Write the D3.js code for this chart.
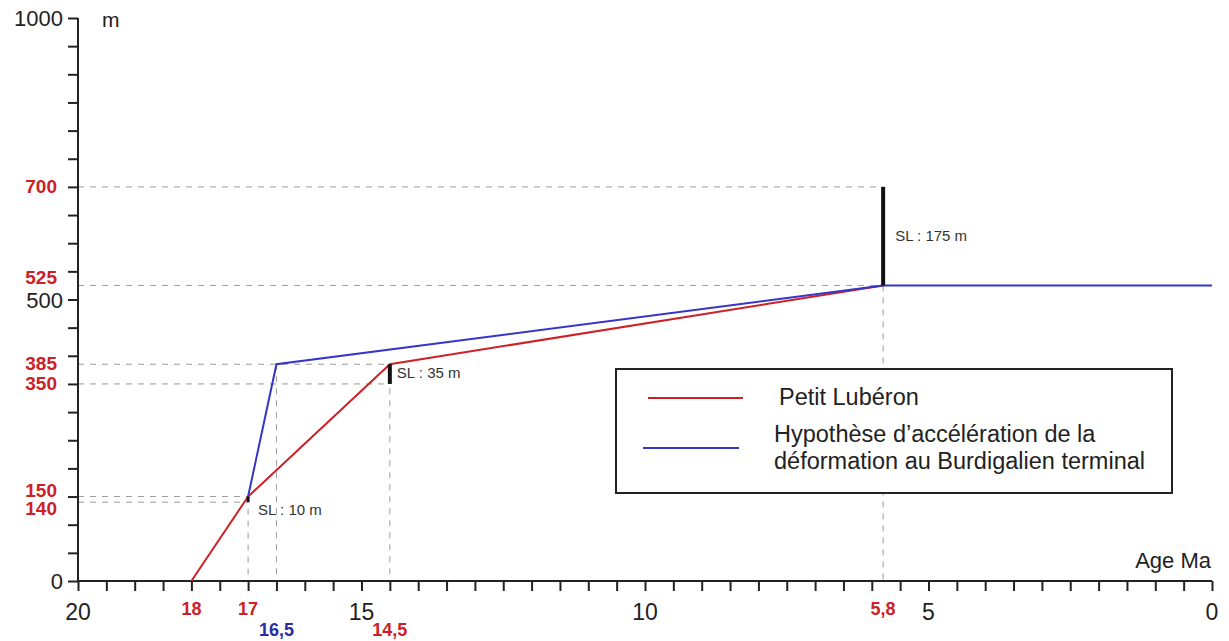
<!DOCTYPE html>
<html><head><meta charset="utf-8">
<script src="https://cdn.jsdelivr.net/npm/d3@7"></script>
<style>body{margin:0;background:#fff;} text{font-family:"Liberation Sans",Arial,sans-serif;}</style>
</head><body><svg id="c" width="1229" height="641"></svg>
<script>
// ---- data ----
const redAges = [18, 17, 14.5, 5.8];
const redAlt  = [0, 150, 385, 525];
const blueAges = [17, 16.5, 5.8, 0];
const blueAlt  = [150, 385, 525, 525];
const slAges = [17, 14.5, 5.8];
const slLow  = [140, 350, 525];
const slHigh = [150, 385, 700];
const slLabels = ["SL : 10 m", "SL : 35 m", "SL : 175 m"];
const yMarks = [700, 525, 385, 350, 150, 140];
const yMarkAges = [5.8, 5.8, 14.5, 14.5, 17, 17];
const xMarks = [18, 17, 16.5, 14.5, 5.8];
const xMarkLabels = ["18", "17", "16,5", "14,5", "5,8"];
const vRefAges = [17, 16.5, 14.5, 5.8];
const vRefAlt  = [150, 385, 385, 525];
const xTickLabels = [20, 15, 10, 5, 0];
const yTickLabels = [0, 500, 1000];
const legendLabels = ["Petit Lubéron", ["Hypothèse d’accélération de la", "déformation au Burdigalien terminal"]];

// ---- layout/style ----
const RED = "#cc2127", BLUE = "#3535c8", LBLUE = "#2b2ba6";
const yMarkDy = [6, -1, 6, 6, 0, 13];
const xMarkRow = [0, 0, 1, 1, 0];
const xMarkColor = [RED, RED, LBLUE, RED, RED];

const svg = d3.select("#c");
const x = d3.scaleLinear().domain([20, 0]).range([78, 1212]);
const y = d3.scaleLinear().domain([0, 1000]).range([581, 18]);

// dashed reference lines
const dash = svg.append("g").attr("stroke", "#9a9a9a").attr("stroke-width", 1).attr("stroke-dasharray", "6,6");
yMarks.forEach((v, i) => {
  dash.append("line").attr("x1", x(20)).attr("x2", x(yMarkAges[i])).attr("y1", y(v)).attr("y2", y(v));
});
vRefAges.forEach((a, i) => {
  dash.append("line").attr("x1", x(a)).attr("x2", x(a)).attr("y1", y(vRefAlt[i])).attr("y2", y(0));
});

// axes
const xAxis = d3.axisBottom(x).tickValues(d3.range(0, 20.001, 0.5)).tickSize(10).tickFormat("");
const gx = svg.append("g").attr("transform", `translate(0,${y(0)})`).call(xAxis);
const yAxis = d3.axisLeft(y).tickValues(d3.range(0, 1000.001, 50)).tickSize(10).tickFormat("");
const gy = svg.append("g").attr("transform", `translate(${x(20)},0)`).call(yAxis);
[gx, gy].forEach(g => {
  g.select(".domain").attr("stroke", "#222").attr("stroke-width", 2);
  g.selectAll(".tick line").attr("stroke", "#222").attr("stroke-width", 2);
});
gx.select(".domain").attr("d", `M${x(20)},0H${x(0)}`);
gy.select(".domain").attr("d", `M0,${y(0)}V${y(1000)}`);

// axis labels (black)
svg.append("g").selectAll("text").data(xTickLabels).join("text")
  .attr("x", d => x(d)).attr("y", 620).attr("text-anchor", "middle")
  .attr("font-size", 23).attr("fill", "#222").text(d => d);
svg.append("g").selectAll("text").data(yTickLabels).join("text")
  .attr("x", 63).attr("y", d => y(d) + 8).attr("text-anchor", "end")
  .attr("font-size", 22).attr("fill", "#222").text(d => d);
svg.append("text").attr("x", 102).attr("y", 27).attr("font-size", 21).attr("fill", "#222").text("m");
svg.append("text").attr("x", 1211).attr("y", 568).attr("text-anchor", "end").attr("font-size", 22).attr("fill", "#222").text("Age Ma");

// special marks labels
svg.append("g").selectAll("text").data(yMarks).join("text")
  .attr("x", 57).attr("y", (d, i) => y(d) + yMarkDy[i]).attr("text-anchor", "end")
  .attr("font-size", 19).attr("font-weight", "bold").attr("fill", RED).text(d => d);
svg.append("g").selectAll("text").data(xMarks).join("text")
  .attr("x", d => x(d)).attr("y", (d, i) => xMarkRow[i] ? 636 : 615).attr("text-anchor", "middle")
  .attr("font-size", 18).attr("font-weight", "bold").attr("fill", (d, i) => xMarkColor[i]).text((d, i) => xMarkLabels[i]);

// series lines
const line = d3.line().x(d => x(d[0])).y(d => y(d[1]));
svg.append("path").datum(redAges.map((a, i) => [a, redAlt[i]]))
  .attr("d", line).attr("fill", "none").attr("stroke", RED).attr("stroke-width", 2);
svg.append("path").datum(blueAges.map((a, i) => [a, blueAlt[i]]))
  .attr("d", line).attr("fill", "none").attr("stroke", BLUE).attr("stroke-width", 2);

// SL bars
const slW = [3, 4, 4];
slAges.forEach((a, i) => {
  svg.append("line").attr("x1", x(a)).attr("x2", x(a)).attr("y1", y(slLow[i])).attr("y2", y(slHigh[i]))
    .attr("stroke", "#111").attr("stroke-width", slW[i]);
});
const slTx = [10, 7, 12];
const slTy = [y(150) + 18, y(385) + 14, (y(525) + y(700)) / 2 + 5];
slAges.forEach((a, i) => {
  svg.append("text").attr("x", x(a) + slTx[i]).attr("y", slTy[i])
    .attr("font-size", 15).attr("fill", "#333").text(slLabels[i]);
});

// legend
const lg = svg.append("g");
lg.append("rect").attr("x", 616).attr("y", 369).attr("width", 556).attr("height", 124)
  .attr("fill", "#fff").attr("stroke", "#222").attr("stroke-width", 2);
lg.append("line").attr("x1", 648).attr("x2", 743).attr("y1", 398).attr("y2", 398).attr("stroke", RED).attr("stroke-width", 2);
lg.append("line").attr("x1", 643).attr("x2", 739).attr("y1", 448).attr("y2", 448).attr("stroke", BLUE).attr("stroke-width", 2);
lg.append("text").attr("x", 779).attr("y", 405).attr("font-size", 23.5).attr("fill", "#222").text(legendLabels[0]);
lg.append("text").attr("x", 774).attr("y", 442).attr("font-size", 23.5).attr("fill", "#222").text(legendLabels[1][0]);
lg.append("text").attr("x", 774).attr("y", 469).attr("font-size", 23.5).attr("fill", "#222").text(legendLabels[1][1]);
</script></body></html>
